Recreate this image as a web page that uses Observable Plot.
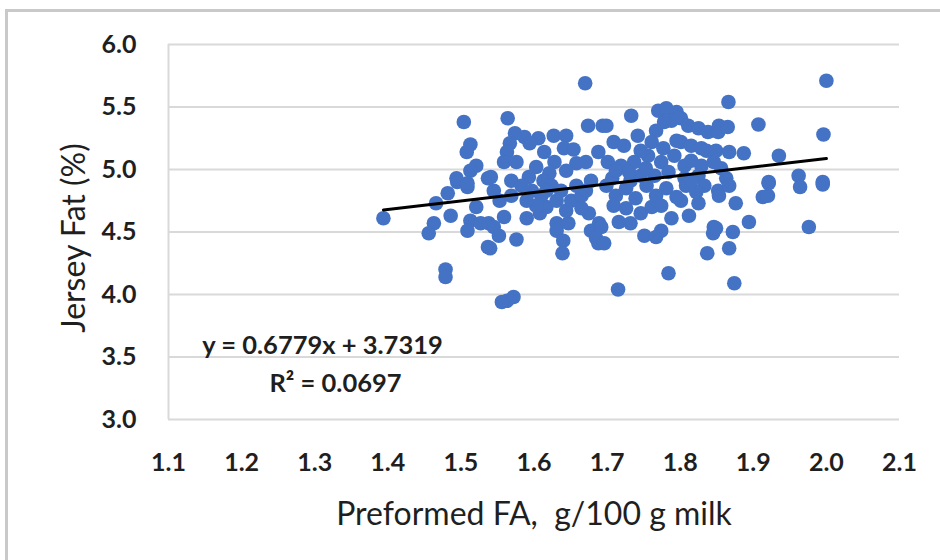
<!DOCTYPE html>
<html>
<head>
<meta charset="utf-8">
<script src="https://cdn.jsdelivr.net/npm/d3@7"></script>
<script src="https://cdn.jsdelivr.net/npm/@observablehq/plot@0.6"></script>
<style>
  html, body { margin: 0; padding: 0; background: #fff; }
  #wrap { position: relative; width: 940px; height: 560px; overflow: hidden; }
  #edge { position: absolute; left: 5px; top: 9px; right: -4px; bottom: -4px;
          border-top: 3px solid #c9c9c9; border-left: 3px solid #c9c9c9; pointer-events: none; }
  svg { font-family: Lato, "Open Sans", sans-serif; }
  g[aria-label="x-axis tick label"] text,
  g[aria-label="y-axis tick label"] text { font-size: 25px; font-weight: 700; fill: #1f1f1f; }
  g[aria-label="x-axis label"] text,
  g[aria-label="y-axis label"] text { font-size: 32px; fill: #1f1f1f; }
</style>
</head>
<body>
<div id="wrap"><div id="edge"></div></div>
<script>
// Preformed fatty acids (g/100 g milk) and fat content (%) for Jersey cows
const preformedFA = [
  1.394, 1.466, 1.482, 1.495, 1.509, 1.486, 1.463, 1.456, 1.479, 1.479,
  1.521, 1.513, 1.509, 1.527, 1.537, 1.538, 1.504, 1.513, 1.508, 1.521,
  1.513, 1.494, 1.509, 1.537,
  1.670, 1.564, 1.674, 1.694, 1.574, 1.587, 1.606, 1.627, 1.644, 1.567,
  1.594, 1.563, 1.614, 1.641, 1.654, 1.688, 1.559, 1.576, 1.603, 1.628,
  1.658, 1.671, 1.644, 1.621, 1.541, 1.569, 1.593, 1.613,
  1.699, 1.733, 1.742, 1.770, 1.781, 1.795, 1.788, 1.801, 1.778, 1.811,
  1.825, 1.838, 1.709, 1.723, 1.761, 1.777, 1.801, 1.815, 1.829, 1.852,
  1.701, 1.719, 1.737, 1.756, 1.774, 1.792, 1.806, 1.829, 1.846, 1.746,
  1.765, 1.784, 1.806, 1.825,
  2.000, 1.866, 1.907, 1.996, 1.853, 1.865, 1.849, 1.867, 1.887, 1.935,
  1.921, 1.962, 1.995, 1.856, 1.863,
  1.545, 1.553, 1.559, 1.545, 1.552, 1.540, 1.576, 1.590, 1.608, 1.617,
  1.631, 1.631, 1.640, 1.639, 1.647, 1.675, 1.678, 1.685, 1.688, 1.689,
  1.563, 1.572, 1.556, 1.583, 1.597, 1.610, 1.624, 1.637, 1.651, 1.665,
  1.603, 1.631, 1.644, 1.658, 1.671, 1.678, 1.590, 1.617, 1.569, 1.665,
  1.692, 1.696, 1.716, 1.732, 1.751, 1.767, 1.774, 1.788, 1.812, 1.825,
  1.801, 1.846, 1.845, 1.837, 1.784, 1.715, 1.746, 1.761, 1.833, 1.852,
  1.699, 1.712, 1.726, 1.739, 1.754, 1.767, 1.781, 1.795, 1.808, 1.822,
  1.709, 1.726, 1.774, 1.815, 1.732, 1.707,
  1.867, 1.853, 1.876, 1.921, 1.913, 1.920, 1.964, 1.995, 1.894, 1.976,
  1.849, 1.872, 1.867, 1.874,
  1.712, 1.730, 1.753, 1.815, 1.836, 1.795, 1.767, 1.746
];
const jerseyFat = [
  4.61, 4.73, 4.81, 4.90, 4.86, 4.63, 4.57, 4.49, 4.20, 4.14,
  4.70, 4.59, 4.51, 4.57, 4.38, 4.57, 5.38, 5.20, 5.14, 5.03,
  4.99, 4.93, 4.89, 4.93,
  5.69, 5.41, 5.35, 5.35, 5.29, 5.26, 5.25, 5.27, 5.27, 5.21,
  5.21, 5.14, 5.14, 5.17, 5.16, 5.14, 5.06, 5.06, 5.02, 5.06,
  5.05, 5.06, 4.99, 4.97, 4.94, 4.91, 4.94, 4.91,
  5.35, 5.43, 5.27, 5.47, 5.49, 5.46, 5.39, 5.41, 5.38, 5.35,
  5.33, 5.30, 5.22, 5.19, 5.22, 5.17, 5.22, 5.19, 5.17, 5.30,
  5.06, 5.03, 5.06, 5.11, 5.06, 5.11, 5.03, 5.03, 5.06, 4.95,
  4.95, 4.98, 4.93, 4.95,
  5.71, 5.54, 5.36, 5.28, 5.35, 5.34, 5.15, 5.14, 5.13, 5.11,
  4.90, 4.95, 4.90, 5.01, 4.93,
  4.83, 4.75, 4.62, 4.54, 4.47, 4.37, 4.44, 4.61, 4.65, 4.70,
  4.57, 4.51, 4.43, 4.33, 4.57, 4.65, 4.51, 4.45, 4.41, 4.57,
  3.95, 3.98, 3.94, 4.87, 4.83, 4.79, 4.87, 4.83, 4.75, 4.79,
  4.71, 4.75, 4.67, 4.87, 4.83, 4.91, 4.75, 4.83, 4.79, 4.69,
  4.54, 4.41, 4.58, 4.57, 4.47, 4.46, 4.51, 4.61, 4.63, 4.73,
  4.75, 4.54, 4.49, 4.33, 4.17, 4.04, 4.65, 4.70, 4.87, 4.83,
  4.87, 4.79, 4.85, 4.77, 4.87, 4.79, 4.85, 4.78, 4.87, 4.82,
  4.71, 4.69, 4.71, 4.91, 4.91, 4.93,
  4.87, 4.79, 4.73, 4.89, 4.78, 4.79, 4.86, 4.88, 4.58, 4.54,
  4.53, 4.50, 4.37, 4.09,
  4.99, 4.98, 5.01, 5.07, 5.15, 5.23, 5.31, 5.15
];

// Linear trend line reported for the data
const slope = 0.6779;
const intercept = 3.7319;
const rSquared = 0.0697;

const xTicks = d3.range(11, 22).map(d => d / 10);
const yTicks = d3.range(6, 13).map(d => d / 2);

const cows = preformedFA.map((x, i) => ({x, y: jerseyFat[i]}));
const [xMin, xMax] = d3.extent(preformedFA);
const trend = [xMin, xMax].map(x => ({x, y: slope * x + intercept}));

const chart = Plot.plot({
  width: 940,
  height: 560,
  marginTop: 44,
  marginRight: 41,
  marginBottom: 141,
  marginLeft: 168,
  x: {
    domain: [1.1, 2.1],
    ticks: xTicks,
    tickFormat: d => d.toFixed(1),
    tickSize: 0,
    tickPadding: 34,
    label: "Preformed FA,  g/100 g milk",
    labelAnchor: "center",
    labelArrow: "none",
    labelOffset: 105
  },
  y: {
    domain: [3, 6],
    ticks: yTicks,
    tickFormat: d => d.toFixed(1),
    tickSize: 0,
    tickPadding: 32,
    label: "Jersey Fat (%)",
    labelAnchor: "center",
    labelArrow: "none",
    labelOffset: 106
  },
  marks: [
    Plot.ruleY(yTicks, {stroke: "#d9d9d9", strokeWidth: 2, strokeOpacity: 1}),
    Plot.ruleX([1.1], {stroke: "#d9d9d9", strokeWidth: 2, strokeOpacity: 1}),
    Plot.dot(cows, {x: "x", y: "y", r: 7.3, fill: "#4472c4", stroke: "none"}),
    Plot.line(trend, {x: "x", y: "y", stroke: "#000", strokeWidth: 3}),
    Plot.text([`y = ${slope}x + ${intercept}`], {
      frameAnchor: "top-left", dx: 154, dy: 291, textAnchor: "middle",
      fontSize: 25.5, fontWeight: 700, fill: "#1f1f1f"
    }),
    Plot.text([`R² = ${rSquared}`], {
      frameAnchor: "top-left", dx: 167, dy: 329, textAnchor: "middle",
      fontSize: 25.5, fontWeight: 700, fill: "#1f1f1f"
    })
  ]
});

// Nudge the rotated y-axis title slightly below the frame's centre
const yLabel = d3.select(chart).select('g[aria-label="y-axis label"]');
yLabel.attr("transform", `${yLabel.attr("transform") || ""} translate(0,6)`);

document.getElementById("wrap").prepend(chart);
</script>
</body>
</html>
